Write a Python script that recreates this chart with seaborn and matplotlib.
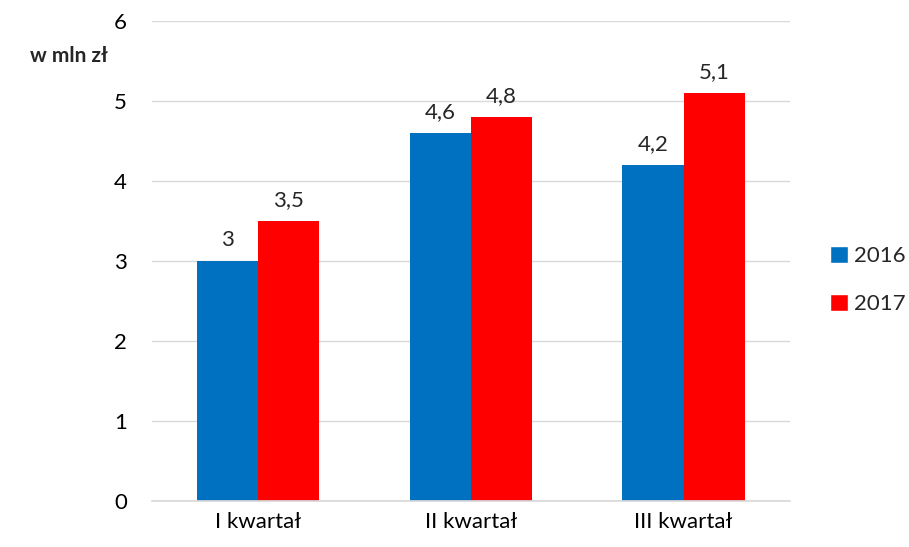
import matplotlib
matplotlib.use("Agg")
import matplotlib.pyplot as plt
import seaborn as sns
import pandas as pd
from matplotlib.patches import Patch

categories = ["I kwartał", "II kwartał", "III kwartał"]
years = ["2016", "2017"]
values_2016 = [3.0, 4.6, 4.2]
values_2017 = [3.5, 4.8, 5.1]
colors = ["#0070C0", "#FF0000"]

df = pd.DataFrame({
    "kw": categories * 2,
    "rok": [years[0]] * 3 + [years[1]] * 3,
    "val": values_2016 + values_2017,
})

sns.set_theme(style="white")
plt.rcParams["font.family"] = ["Lato", "DejaVu Sans"]

fig = plt.figure(figsize=(9.09, 5.47), dpi=100)
ax = fig.add_axes([0.167, 0.084, 0.702, 0.878])
sns.barplot(data=df, x="kw", y="val", hue="rok", palette=colors,
            width=0.575, saturation=1, gap=0, ax=ax, legend=False,
            linewidth=0, edgecolor="none")

ax.set_ylim(0, 6)
ax.set_yticks(range(0, 7))
ax.yaxis.grid(True, color="#D9D9D9", linewidth=1)
ax.set_axisbelow(True)
for s in ["top", "right", "left"]:
    ax.spines[s].set_visible(False)
ax.spines["bottom"].set_color("#D9D9D9")
ax.tick_params(axis="both", length=0, labelsize=16, colors="#000000")
ax.tick_params(axis="y", pad=18)
ax.tick_params(axis="x", pad=8)
ax.set_xlabel("")
ax.set_ylabel("")

for cont in ax.containers:
    ax.bar_label(cont, labels=[f"{v:g}".replace(".", ",") for v in cont.datavalues],
                 padding=8, fontsize=16)

fig.text(0.033, 0.886, "w mln zł", fontsize=15, fontweight="bold")

handles = [Patch(facecolor=c, label=y) for c, y in zip(colors, years)]
fig.legend(handles=handles, loc="center left", bbox_to_anchor=(0.913, 0.488),
           frameon=False, fontsize=16, handlelength=0.8, handleheight=0.8,
           handletextpad=0.3, labelspacing=1.25, borderpad=0, borderaxespad=0)

fig.savefig("out.png", dpi=100)
